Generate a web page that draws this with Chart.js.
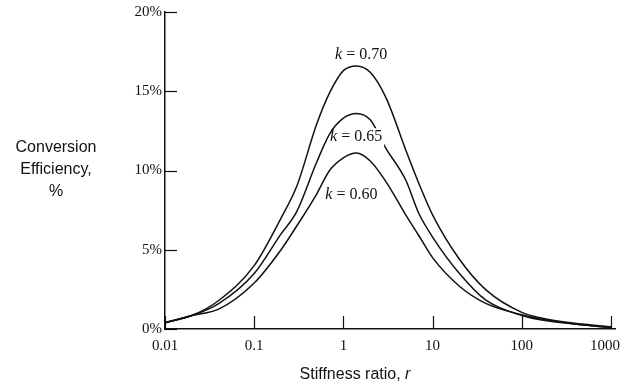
<!DOCTYPE html>
<html>
<head>
<meta charset="utf-8">
<script src="https://cdn.jsdelivr.net/npm/chart.js@4"></script>
<style>
  html, body { margin: 0; padding: 0; background: #fff; }
  #wrap { width: 621px; height: 384px; }
</style>
</head>
<body>
<div id="wrap"><canvas id="chart"></canvas></div>
<script>
// stiffness ratio r (log axis)
const rValues = [0.01, 0.02, 0.04, 0.1, 0.2, 0.3, 0.5, 0.7, 1, 1.4, 2, 3, 5, 7, 10, 20, 40, 100, 200, 500, 1000];
// conversion efficiency, %
const eff070 = [0.4, 0.85, 1.8, 4.0, 7.0, 9.0, 12.9, 14.9, 16.3, 16.6, 16.2, 14.6, 11.3, 9.2, 7.2, 4.4, 2.45, 1.05, 0.6, 0.3, 0.15];
const eff065 = [0.4, 0.85, 1.6, 3.5, 6.0, 7.4, 10.5, 12.3, 13.3, 13.6, 13.2, 11.4, 9.4, 7.3, 5.8, 3.5, 1.8, 0.85, 0.5, 0.25, 0.1];
const eff060 = [0.4, 0.85, 1.25, 2.9, 5.0, 6.5, 8.5, 10.0, 10.8, 11.1, 10.6, 9.3, 7.2, 5.9, 4.5, 2.7, 1.6, 0.9, 0.55, 0.25, 0.1];

const xTicks = [0.01, 0.1, 1, 10, 100, 1000];
const xTickLabels = ['0.01', '0.1', '1', '10', '100', '1000'];
const yTicks = [0, 5, 10, 15, 20];

// curve labels: [k text, r position, % position]
const curveLabels = [
  ['0.70', 1.58, 17.3],
  ['0.65', 1.39, 12.1],
  ['0.60', 1.23, 8.45]
];

const serif = '"Liberation Serif", "DejaVu Serif", serif';
const sans = '"Liberation Sans", Arial, sans-serif';

function series(vals) {
  return {
    data: rValues.map((r, i) => ({ x: r, y: vals[i] })),
    borderColor: '#111',
    borderWidth: 1.5,
    pointRadius: 0,
    fill: false,
    cubicInterpolationMode: 'monotone'
  };
}

const extras = {
  id: 'extras',
  afterDatasetsDraw(chart) {
    const ctx = chart.ctx;
    const xs = chart.scales.x, ys = chart.scales.y;
    const area = chart.chartArea;
    ctx.save();
    // inward tick marks
    ctx.strokeStyle = '#111';
    ctx.lineWidth = 1.2;
    xTicks.forEach(v => {
      const px = Math.round(xs.getPixelForValue(v)) + 0.5;
      ctx.beginPath();
      ctx.moveTo(px, area.bottom);
      ctx.lineTo(px, area.bottom - 13);
      ctx.stroke();
    });
    yTicks.forEach(v => {
      const py = Math.round(ys.getPixelForValue(v)) + 0.5;
      ctx.beginPath();
      ctx.moveTo(area.left, py);
      ctx.lineTo(area.left + 12, py);
      ctx.stroke();
    });
    // x tick labels, last one kept inside the canvas
    ctx.fillStyle = '#111';
    ctx.textBaseline = 'top';
    ctx.textAlign = 'center';
    ctx.font = '15px ' + serif;
    xTicks.forEach((v, i) => {
      const w = ctx.measureText(xTickLabels[i]).width;
      let px = xs.getPixelForValue(v);
      px = Math.min(px, chart.width - 1 - w / 2);
      ctx.fillText(xTickLabels[i], px, area.bottom + 10);
    });
    // curve labels
    ctx.textBaseline = 'middle';
    curveLabels.forEach(([val, r, y]) => {
      const cx = xs.getPixelForValue(r), cy = ys.getPixelForValue(y);
      ctx.font = 'italic 16px ' + serif;
      const wk = ctx.measureText('k').width;
      ctx.font = '16px ' + serif;
      const rest = ' = ' + val;
      const wr = ctx.measureText(rest).width;
      const w = wk + wr;
      const x0 = cx - w / 2;
      ctx.fillStyle = '#fff';
      ctx.fillRect(x0 + 5, cy - 9, w - 3, 18);
      ctx.fillStyle = '#111';
      ctx.textAlign = 'left';
      ctx.font = 'italic 16px ' + serif;
      ctx.fillText('k', x0, cy);
      ctx.font = '16px ' + serif;
      ctx.fillText(rest, x0 + wk, cy);
    });
    // y axis title (horizontal, three lines)
    ctx.textAlign = 'center';
    ctx.font = '16px ' + sans;
    ctx.fillText('Conversion', 56, 148);
    ctx.fillText('Efficiency,', 56, 170);
    ctx.fillText('%', 56, 192);
    // x axis title with italic r
    ctx.font = '16px ' + sans;
    const t1 = 'Stiffness ratio, ';
    const w1 = ctx.measureText(t1).width;
    ctx.font = 'italic 16px ' + sans;
    const w2 = ctx.measureText('r').width;
    const sx = 355 - (w1 + w2) / 2;
    ctx.textAlign = 'left';
    ctx.font = '16px ' + sans;
    ctx.fillText(t1, sx, 375);
    ctx.font = 'italic 16px ' + sans;
    ctx.fillText('r', sx + w1, 375);
    ctx.restore();
  }
};

new Chart(document.getElementById('chart'), {
  type: 'line',
  data: { datasets: [series(eff070), series(eff065), series(eff060)] },
  options: {
    responsive: true,
    maintainAspectRatio: false,
    animation: false,
    layout: { padding: { top: 12, right: 6, left: 0, bottom: 0 } },
    plugins: { legend: { display: false }, tooltip: { enabled: false } },
    scales: {
      x: {
        type: 'logarithmic',
        min: 0.01,
        max: 1110,
        afterBuildTicks: s => { s.ticks = xTicks.map(v => ({ value: v })); },
        afterFit: s => { s.height = 55; s.paddingLeft = 0; s.paddingRight = 0; },
        grid: { display: false, drawTicks: false },
        border: { display: true, color: '#111', width: 1.5 },
        ticks: { display: false }
      },
      y: {
        min: 0,
        max: 20,
        afterBuildTicks: s => { s.ticks = yTicks.map(v => ({ value: v })); },
        afterFit: s => { s.width = 165; },
        grid: { display: false, drawTicks: false },
        border: { display: true, color: '#111', width: 1.5 },
        ticks: {
          padding: 3,
          color: '#111',
          font: { family: serif, size: 15 },
          callback: v => v + '%'
        }
      }
    }
  },
  plugins: [extras]
});
</script>
</body>
</html>
